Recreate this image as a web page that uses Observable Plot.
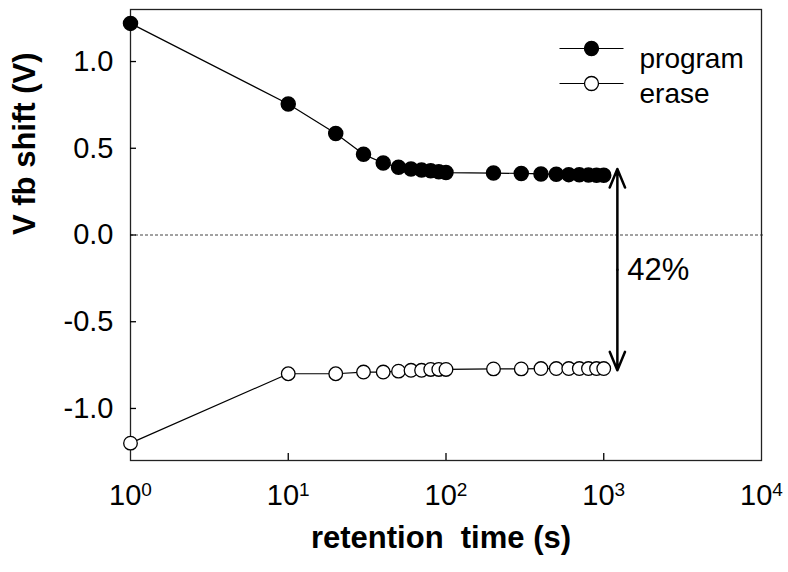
<!DOCTYPE html>
<html><head><meta charset="utf-8">
<script src="https://cdn.jsdelivr.net/npm/d3@7"></script>
<script src="https://cdn.jsdelivr.net/npm/@observablehq/plot@0.6"></script>
<style>body{margin:0;background:#fff;} svg{display:block;}</style>
</head><body><div id="chart"></div>
<script>
// retention time (s)
const times   = [1, 10, 20, 30, 40, 50, 60, 70, 80, 90, 100, 200, 300, 400, 500, 600, 700, 800, 900, 1000];
// V fb shift (V)
const program = [1.22, 0.755, 0.585, 0.465, 0.415, 0.39, 0.38, 0.375, 0.37, 0.365, 0.36, 0.357, 0.355, 0.352, 0.35, 0.348, 0.347, 0.346, 0.345, 0.345];
const erase   = [-1.20, -0.80, -0.80, -0.79, -0.79, -0.785, -0.78, -0.78, -0.775, -0.775, -0.775, -0.772, -0.772, -0.77, -0.77, -0.77, -0.77, -0.77, -0.77, -0.77];
const seriesNames = ["program", "erase"];
const xTicks = [1, 10, 100, 1000, 10000];
const yTicks = [-1.0, -0.5, 0.0, 0.5, 1.0];
// annotation: window arrow
const arrowX = 1220;
const arrowEnds = [0.38, -0.78];
const annotationText = ["42%"];
const xLabel = "retention\u00a0 time (s)";
const yLabel = "V fb shift (V)";

const progRows = times.map((t, i) => ({t, v: program[i]}));
const eraseRows = times.map((t, i) => ({t, v: erase[i]}));
const arrowMid = (arrowEnds[0] + arrowEnds[1]) / 2;
const arrows = arrowEnds.map(e => ({x: arrowX, y1: arrowMid, y2: e}));

const W = 788, H = 572, mL = 130, mR = 27, mT = 9, mB = 112;
const frameW = W - mL - mR, frameH = H - mT - mB;

const hline = {draw(ctx) { ctx.moveTo(-32, 0); ctx.lineTo(32, 0); }};
const legendDy = [39, 74];
const legendFill = ["#000", "#fff"];

const font = "Arial, 'Liberation Sans', sans-serif";
const legendMarks = seriesNames.flatMap((name, i) => [
  Plot.dot([name], {frameAnchor: "top-right", dx: -170, dy: legendDy[i], symbol: hline, r: 7, fill: "none", stroke: "#000", strokeWidth: 1.2}),
  Plot.dot([name], {frameAnchor: "top-right", dx: -170, dy: legendDy[i], r: 7, fill: legendFill[i], stroke: "#000", strokeWidth: 1.3}),
  Plot.text([name], {frameAnchor: "top-right", dx: -122, dy: legendDy[i], text: d => d, textAnchor: "start", fontSize: 28})
]);

const plot = Plot.plot({
  width: W, height: H,
  marginLeft: mL, marginRight: mR, marginTop: mT, marginBottom: mB,
  style: {fontFamily: font, fontSize: "29px", color: "#000", background: "#fff", overflow: "visible"},
  x: {type: "log", domain: [1, 10000], label: null},
  y: {domain: [-1.3, 1.3], label: null},
  marks: [
    Plot.ruleY([0], {stroke: "#444", strokeDasharray: "3,2", strokeWidth: 1, insetRight: -4}),
    Plot.frame({stroke: "#222", strokeWidth: 1.3}),
    // inward ticks
    Plot.ruleY(yTicks, {stroke: "#000", strokeWidth: 1.3, insetRight: frameW - 6}),
    Plot.ruleX(xTicks.slice(1, 4), {stroke: "#000", strokeWidth: 1.3, insetTop: frameH - 7}),
    Plot.axisY(yTicks, {tickSize: 0, tickPadding: 17, tickFormat: d => d.toFixed(1), fontSize: 29, label: null}),
    Plot.axisX(xTicks, {tickSize: 0, tickPadding: 24, tickFormat: d => `10^${Math.round(Math.log10(d))}`, fontSize: 29, label: null}),
    Plot.line(progRows, {x: "t", y: "v", stroke: "#000", strokeWidth: 1.2}),
    Plot.line(eraseRows, {x: "t", y: "v", stroke: "#000", strokeWidth: 1.2}),
    Plot.dot(progRows, {x: "t", y: "v", r: 7, fill: "#000", stroke: "#000"}),
    Plot.dot(eraseRows, {x: "t", y: "v", r: 6.8, fill: "#fff", stroke: "#000", strokeWidth: 1.3}),
    Plot.arrow(arrows, {x: "x", y1: "y1", y2: "y2", stroke: "#000", strokeWidth: 2.5, headLength: 12, headAngle: 45}),
    Plot.text(annotationText, {x: arrowX, y: arrowMid, text: d => d, dx: 10, textAnchor: "start", fontSize: 31}),
    ...legendMarks,
    Plot.text([yLabel], {frameAnchor: "left", dx: -105, rotate: -90, text: d => d, fontWeight: "bold", fontSize: 31}),
    Plot.text([xLabel], {frameAnchor: "bottom", dy: 87, dx: -5, text: d => d, fontWeight: "bold", fontSize: 31})
  ]
});

d3.select(plot).selectAll("text").each(function () {
  const m = this.textContent.match(/^10\^(\d)$/);
  if (m) {
    this.textContent = "10";
    d3.select(this).append("tspan").attr("dy", "-9").attr("font-size", "19").text(m[1]);
  }
});

document.getElementById("chart").appendChild(plot);
</script>
</body></html>
